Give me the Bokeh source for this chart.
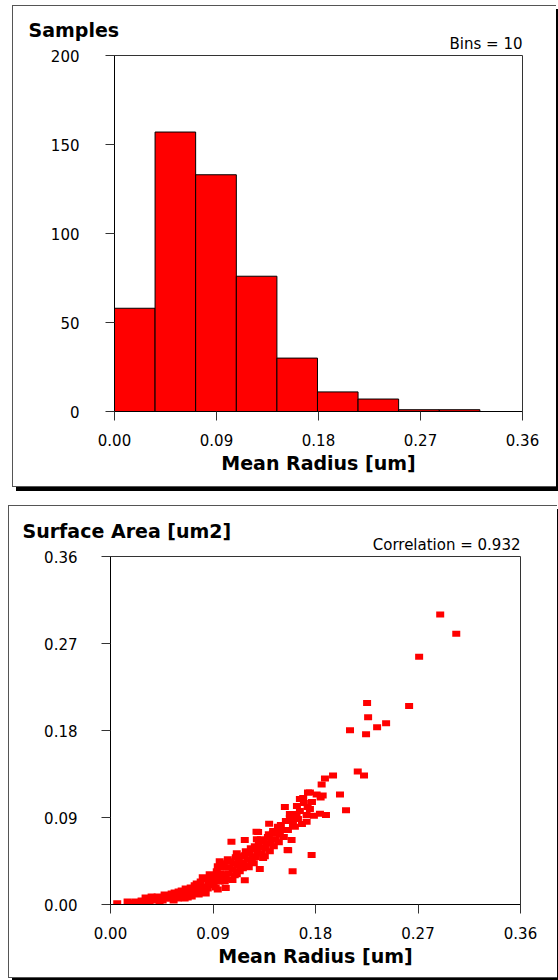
from bokeh.plotting import figure
from bokeh.layouts import column
from bokeh.models import Range1d, FixedTicker, PrintfTickFormatter, Title, ColumnDataSource
from bokeh.embed import file_html
from bokeh.resources import INLINE

# ---------------- data ----------------
bin_edges = [0.0, 0.0358, 0.0716, 0.1075, 0.1433, 0.1791, 0.2149, 0.2507, 0.2866, 0.3224, 0.3582]
bin_counts = [58, 157, 133, 76, 30, 11, 7, 1, 1, 0]

radius_ticks = [0.0, 0.09, 0.18, 0.27, 0.36]
count_ticks = [0, 50, 100, 150, 200]
area_ticks = [0.0, 0.09, 0.18, 0.27, 0.36]

mean_radius = [
    0.2895, 0.3036, 0.2710, 0.2253, 0.2622, 0.2262, 0.2420, 0.2341, 0.2103, 0.2244,
    0.2171, 0.2226, 0.1954, 0.1883, 0.1854, 0.1751, 0.1810, 0.1863, 0.2015, 0.1692,
    0.1845, 0.1531, 0.1637, 0.1731, 0.2068, 0.1734, 0.1575, 0.1634, 0.1722, 0.1786,
    0.1839, 0.1892, 0.1590, 0.1722, 0.1619, 0.1393, 0.1472, 0.1296, 0.1428, 0.1590,
    0.1560, 0.1766, 0.1599, 0.1311, 0.1179, 0.1340, 0.1062, 0.1179, 0.1282, 0.1555,
    0.1071, 0.1012, 0.0959, 0.0942, 0.0059,
    0.0167, 0.0220, 0.0194, 0.0273, 0.0308, 0.0334, 0.0290, 0.0378, 0.0414, 0.0440,
    0.0396, 0.0475, 0.0502, 0.0537, 0.0528, 0.0598, 0.0634, 0.0660, 0.0686, 0.0616,
    0.0704, 0.0572, 0.0739, 0.0766, 0.0792, 0.0818, 0.0845, 0.0748, 0.0862, 0.0889,
    0.0906, 0.0933, 0.0950, 0.0977, 0.0986, 0.1003, 0.0898, 0.1021, 0.1038, 0.1056,
    0.1074, 0.1100, 0.1118, 0.1065, 0.1135, 0.1153, 0.1170, 0.1188, 0.1206, 0.1232,
    0.1250, 0.1214, 0.1162, 0.1285, 0.1302, 0.1329, 0.1346, 0.1364, 0.1382, 0.1285,
    0.1408, 0.1426, 0.1452, 0.1470, 0.1487, 0.1514, 0.1258, 0.1109, 0.0827, 0.0678,
    0.0431, 0.0554,
    0.0150, 0.0246, 0.0264, 0.0343, 0.0361, 0.0458, 0.0484, 0.0519, 0.0563, 0.0590,
    0.0625, 0.0651, 0.0669, 0.0713, 0.0730, 0.0757, 0.0774, 0.0801, 0.0810, 0.0836,
    0.0854, 0.0871, 0.0880, 0.0915, 0.0924, 0.0942, 0.0959, 0.0968, 0.0994, 0.1012,
    0.1030, 0.1047, 0.1082, 0.1091, 0.1109, 0.1126, 0.1144, 0.1179, 0.1197, 0.1223,
    0.1241, 0.1267, 0.1276, 0.1294, 0.1320, 0.1338, 0.1355, 0.1373, 0.1390, 0.1399,
    0.1417, 0.1434, 0.1461, 0.1478, 0.1496, 0.1522, 0.1540, 0.1558, 0.1575, 0.1602,
    0.1646, 0.1663, 0.1681, 0.1751, 0.1698, 0.1769, 0.1663,
]
surface_area = [
    0.3000, 0.2802, 0.2563, 0.2084, 0.2053, 0.1938, 0.1876, 0.1834, 0.1803, 0.1762,
    0.1377, 0.1335, 0.1335, 0.1304, 0.1241, 0.1158, 0.1137, 0.1127, 0.1137, 0.1103,
    0.1106, 0.1009, 0.1020, 0.1009, 0.0975, 0.1158, 0.0936, 0.0936, 0.0926, 0.0919,
    0.0940, 0.0926, 0.0874, 0.0856, 0.0804, 0.0836, 0.0804, 0.0749, 0.0760, 0.0666,
    0.0562, 0.0513, 0.0343, 0.0367, 0.0250, 0.0482, 0.0648, 0.0666, 0.0752, 0.0565,
    0.0253, 0.0170, 0.0447, 0.0156, 0.0014,
    0.0021, 0.0031, 0.0010, 0.0042, 0.0073, 0.0052, 0.0021, 0.0062, 0.0083, 0.0062,
    0.0042, 0.0104, 0.0073, 0.0114, 0.0062, 0.0135, 0.0104, 0.0166, 0.0125, 0.0083,
    0.0177, 0.0094, 0.0198, 0.0156, 0.0239, 0.0187, 0.0260, 0.0135, 0.0208, 0.0281,
    0.0229, 0.0343, 0.0281, 0.0385, 0.0312, 0.0239, 0.0198, 0.0385, 0.0322, 0.0447,
    0.0364, 0.0489, 0.0406, 0.0260, 0.0343, 0.0499, 0.0437, 0.0551, 0.0468, 0.0582,
    0.0499, 0.0385, 0.0374, 0.0572, 0.0624, 0.0530, 0.0655, 0.0582, 0.0697, 0.0676,
    0.0634, 0.0738, 0.0676, 0.0801, 0.0728, 0.0770, 0.0426, 0.0312, 0.0135, 0.0073,
    0.0031, 0.0042,
    0.0031, 0.0021, 0.0010, 0.0021, 0.0083, 0.0042, 0.0062, 0.0094, 0.0125, 0.0062,
    0.0146, 0.0062, 0.0104, 0.0083, 0.0146, 0.0218, 0.0104, 0.0166, 0.0281, 0.0114,
    0.0166, 0.0312, 0.0250, 0.0291, 0.0177, 0.0395, 0.0239, 0.0322, 0.0426, 0.0281,
    0.0468, 0.0385, 0.0426, 0.0302, 0.0530, 0.0458, 0.0385, 0.0510, 0.0406, 0.0530,
    0.0447, 0.0603, 0.0489, 0.0530, 0.0676, 0.0593, 0.0499, 0.0634, 0.0728, 0.0551,
    0.0676, 0.0603, 0.0749, 0.0645, 0.0822, 0.0697, 0.0863, 0.0770, 0.0894, 0.0832,
    0.0884, 0.0967, 0.0832, 0.0988, 0.1050, 0.1061, 0.1092,
]

FONT = "DejaVu Sans"
TICK_SIZE = "15px"
TITLE_SIZE = "19px"


def style(p, xticks, yticks, yfmt):
    p.xaxis.ticker = FixedTicker(ticks=xticks)
    p.yaxis.ticker = FixedTicker(ticks=yticks)
    p.xaxis.formatter = PrintfTickFormatter(format="%.2f")
    p.yaxis.formatter = PrintfTickFormatter(format=yfmt)
    for ax in p.axis:
        ax.major_tick_out = 9
        ax.major_tick_in = 0
        ax.minor_tick_line_color = None
        ax.axis_line_color = "black"
        ax.major_tick_line_color = "#333333"
        ax.major_label_text_font = FONT
        ax.major_label_text_font_size = TICK_SIZE
        ax.major_label_text_color = "black"
    p.xaxis.axis_label = "Mean Radius [um]"
    p.xaxis.axis_label_text_font = FONT
    p.xaxis.axis_label_text_font_size = TITLE_SIZE
    p.xaxis.axis_label_text_font_style = "bold"
    p.xaxis.axis_label_text_color = "black"
    p.xaxis.major_label_standoff = 13
    p.xaxis.axis_label_standoff = 3
    p.xgrid.visible = False
    p.ygrid.visible = False
    p.outline_line_color = "#333333"
    p.outline_line_width = 1
    p.background_fill_color = "white"
    p.border_fill_color = "white"


def add_titles(p, left_text, right_text, left_offset):
    p.add_layout(Title(text=right_text, align="right", offset=0, standoff=5,
                       text_font=FONT, text_font_size=TICK_SIZE, text_font_style="normal",
                       text_color="black"), "above")
    p.add_layout(Title(text=left_text, align="left", offset=left_offset, standoff=-20,
                       text_font=FONT, text_font_size=TITLE_SIZE, text_font_style="bold",
                       text_color="black"), "above")


panel_style = {
    "border-top": "1px solid #555555",
    "border-left": "1px solid #555555",
    "border-bottom": "1px solid #555555",
    "box-shadow": "4px 4px 0 0 #000000",
}

# ---------------- histogram ----------------
hist_src = ColumnDataSource(dict(left=bin_edges[:-1], right=bin_edges[1:], top=bin_counts,
                                 bottom=[0] * len(bin_counts)))
p1 = figure(frame_width=407, frame_height=354, title=None,
            x_range=Range1d(0, 0.36), y_range=Range1d(0, 200),
            output_backend="svg", toolbar_location=None,
            min_border_left=98, min_border_right=38, min_border_top=49, min_border_bottom=77,
            styles=panel_style, margin=(5, 0, 0, 12))
p1.quad(left="left", right="right", top="top", bottom="bottom", source=hist_src,
        fill_color="#FF0000", line_color="black", line_width=1)
style(p1, radius_ticks, count_ticks, "%d")
p1.yaxis.major_label_standoff = 26
add_titles(p1, "Samples", "Bins = 10", -86)

# ---------------- scatter ----------------
sc_src = ColumnDataSource(dict(r=mean_radius, a=surface_area))
p2 = figure(frame_width=409, frame_height=346, title=None,
            x_range=Range1d(0, 0.36), y_range=Range1d(0, 0.36),
            output_backend="svg", toolbar_location=None,
            min_border_left=101, min_border_right=38, min_border_top=50, min_border_bottom=75,
            styles=panel_style, margin=(18, 0, 0, 8))
p2.rect(x="r", y="a", width=8, height=6, width_units="screen", height_units="screen",
        source=sc_src, fill_color="#FF0000", line_color=None)
style(p2, radius_ticks, area_ticks, "%.2f")
p2.yaxis.major_label_standoff = 24
add_titles(p2, "Surface Area [um2]", "Correlation = 0.932", -88)

layout = column(p1, p2, spacing=0)
open("out.html", "w").write(file_html(layout, INLINE))
